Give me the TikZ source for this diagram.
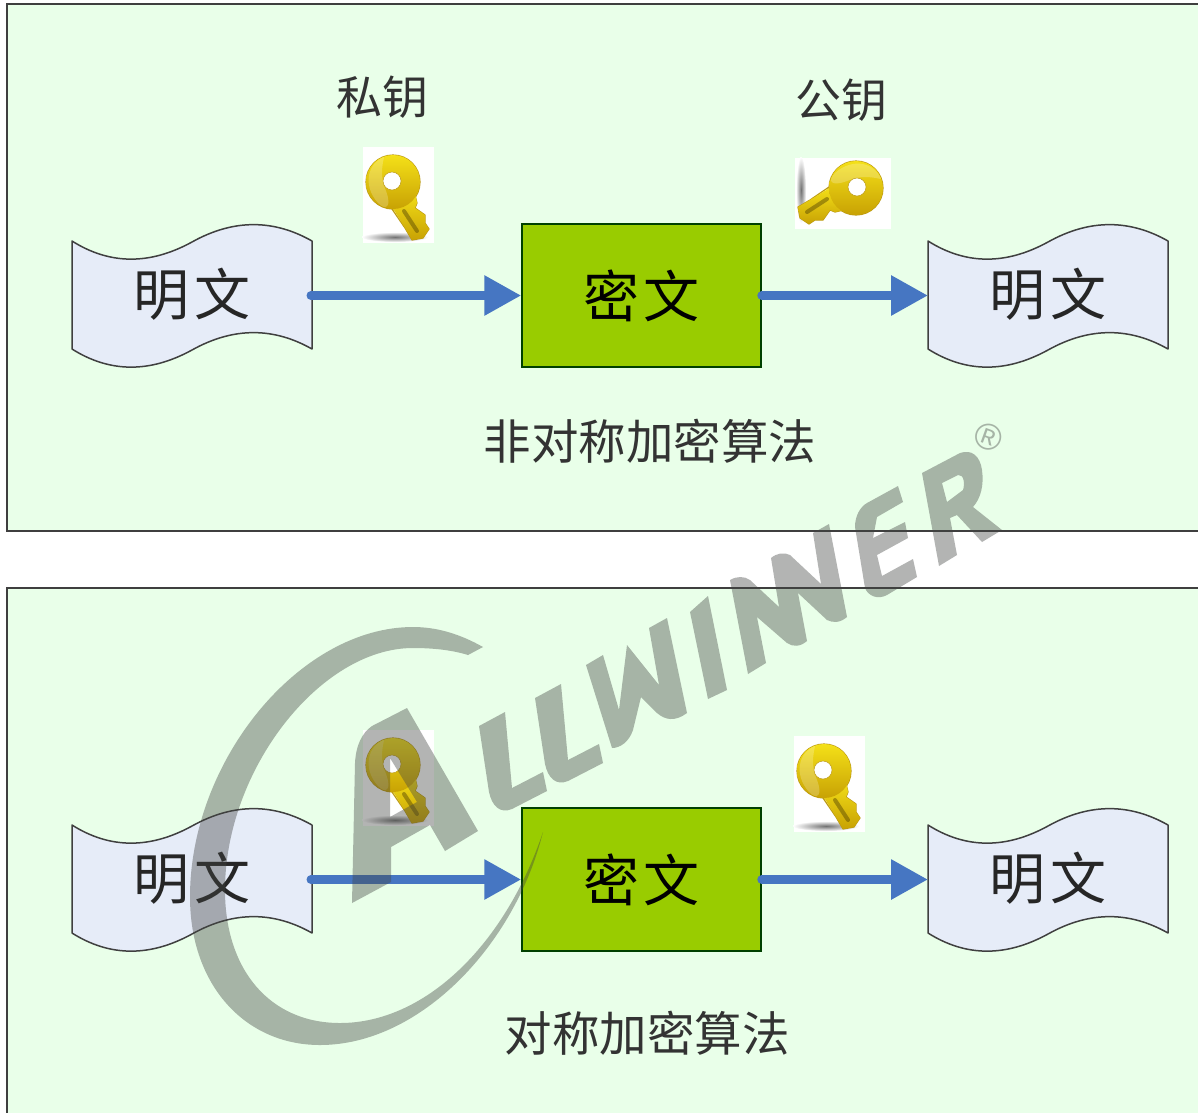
\documentclass[tikz,border=0pt]{standalone}
\usepackage{fontspec}
\usetikzlibrary{arrows.meta}
\newfontfamily\cjk{Noto Sans CJK SC}
\newfontfamily\regfont{Liberation Sans}
\definecolor{panelbg}{HTML}{E9FFE9}
\definecolor{panelline}{HTML}{3F3F3F}
\definecolor{docbg}{HTML}{E6ECF8}
\definecolor{boxbg}{HTML}{99CC00}
\definecolor{flow}{HTML}{4676C2}
\definecolor{keytop}{HTML}{F4E018}
\definecolor{keybot}{HTML}{C8A204}
\definecolor{keyline}{HTML}{BC9A14}
\definecolor{wmark}{HTML}{424442}
\tikzset{
  x=1pt,y=-1pt,
  panel/.style={fill=panelbg,draw=panelline,line width=1.8pt},
  doctext/.style={font=\cjk\fontsize{56}{56}\selectfont,text=black!85,inner sep=0pt},
  caption/.style={font=\cjk\fontsize{46}{46}\selectfont,text=black!80,inner sep=0pt},
  longcaption/.style={font=\cjk\fontsize{47.5}{47.5}\selectfont,text=black!80,inner sep=0pt},
  cipher/.style={fill=boxbg,draw=black!75!green,line width=1.5pt,minimum width=239pt,minimum height=143pt,inner sep=0pt,font=\cjk\fontsize{56}{56}\selectfont,text=black},
  flowline/.style={draw=flow,line width=9pt,line cap=round,-{Triangle[length=37pt,width=38pt]}},
  wm/.style={fill=wmark,fill opacity=.4,text opacity=.4,even odd rule},
  docshape/.pic={
    \draw[fill=docbg,draw=black!75,line width=1.5pt,line join=round]
      (0,0) .. controls (38,24) and (78,24) .. (120,1)
            .. controls (163,-23) and (203,-21) .. (240,0)
      -- (240,108) .. controls (203,87) and (163,85) .. (120,109)
            .. controls (78,132) and (38,132) .. (0,108) -- cycle;
  },
  goldkey/.pic={
    \fill[white] (-29,-34) rectangle (42,62);
    \shade[inner color=black!55,outer color=white] (3,56) ellipse [x radius=33,y radius=5];
    \draw[keyline,line width=1.2pt,line join=round]
      (1,1) circle [radius=27];
    \draw[keyline,line width=1.2pt,line join=round]
      (0,28) -- (13,47) -- (20,59) -- (31,57) -- (37,48) -- (33,42) -- (33,34) -- (23,27) -- (25,22) -- (23,14) -- cycle;
    \shade[top color=keytop,bottom color=keybot]
      (0,26) -- (13,47) -- (20,59) -- (31,57) -- (37,48) -- (33,42) -- (33,34) -- (23,27) -- (25,22) -- (23,10) -- cycle;
    \shade[top color=keytop,bottom color=keybot] (1,1) circle [radius=27];
    \fill[white,opacity=.22] (-8,-24) .. controls (-24,-18) and (-30,4) .. (-14,22) .. controls (-6,30) and (0,26) .. (-6,10) .. controls (-12,-4) and (-10,-14) .. (-8,-24) -- cycle;
    \draw[black!60!keybot,line width=4pt,opacity=.45,line cap=round] (12,30) -- (25,50);
    \fill[white] (0,0) circle [radius=9];
    \draw[keyline,line width=.5pt] (0,0) circle [radius=9];
  }
}
\begin{document}
\begin{tikzpicture}
\clip (0,0) rectangle (1198,1112);
\fill[white] (0,0) rectangle (1198,1112);

% panels
\draw[panel] (7,4) rectangle (1230,531);
\draw[panel] (7,588) rectangle (1230,1140);

% upper row
\pic at (72,241) {docshape};
\pic at (928,241) {docshape};
\node[doctext] (p1) at (192,294) {明\hspace{5pt}文};
\node[doctext] (p2) at (1048,294) {明\hspace{5pt}文};
\node[cipher] (c1) at (641.5,295.5) {密\hspace{5pt}文};
\coordinate (p1e) at (311,295.5);
\coordinate (p2w) at (928,295.5);
\draw[flowline] (p1e) -- (c1.west);
\draw[flowline] (c1.east) -- (p2w);

\node[caption] (t1) at (382,97) {私钥};
\node[caption] (t2) at (841,100) {公钥};
\node[longcaption] (t3) at (650,441) {非对称加密算法};
\pic at (392,181) {goldkey};
\pic[rotate=-90] at (857,187) {goldkey};

% lower row
\pic at (72,825) {docshape};
\pic at (928,825) {docshape};
\node[doctext] (p3) at (192,878) {明\hspace{5pt}文};
\node[doctext] (p4) at (1048,878) {明\hspace{5pt}文};
\node[cipher] (c2) at (641.5,879.5) {密\hspace{5pt}文};
\coordinate (p3e) at (311,879.5);
\coordinate (p4w) at (928,879.5);
\draw[flowline] (p3e) -- (c2.west);
\draw[flowline] (c2.east) -- (p4w);
\node[longcaption] (t4) at (647,1033) {对称加密算法};
\pic at (392,764) {goldkey};
\pic at (823,770) {goldkey};

% watermark
\fill[wm]
  (483,647) .. controls (460,634) and (437,627) .. (413,627)
  .. controls (300,627) and (190,760) .. (190,897)
  .. controls (190,985) and (245,1045) .. (320,1045)
  .. controls (420,1045) and (515,945) .. (543,832)
  .. controls (505,945) and (425,1023) .. (340,1023)
  .. controls (270,1023) and (225,970) .. (225,890)
  .. controls (225,770) and (320,648) .. (413,648)
  .. controls (433,648) and (452,650) .. (468,655) -- cycle;
\fill[wm]
  (352,903) -- (355,763) .. controls (356,745) and (362,733) .. (372,726) -- (407,708) -- (478,831) -- (445,851) -- (430,825) -- (391,847) -- (391,882) -- cycle
  (390,758) -- (417,802) -- (390,817) -- cycle;
\fill[wm]
  (479,726) -- (505,712) -- (512,788) -- (543,772) -- (547,791) -- (512,809) .. controls (500,814) and (492,806) .. (489,792) -- cycle;
\fill[wm]
  (535,698) -- (561,684) -- (568,760) -- (599,744) -- (603,763) -- (568,781) .. controls (556,786) and (548,778) .. (545,764) -- cycle;
\fill[wm]
  (586,665) -- (603,655) -- (619,710) -- (627,645) -- (659,685) -- (649,628) -- (667,618) -- (687,713) .. controls (675,722) and (665,720) .. (657,713) -- (641,697) -- (633,730) .. controls (629,742) and (620,748) .. (612,748) -- cycle;
\fill[wm] (690,612) -- (708,596) -- (727,690) -- (708,699) -- cycle;
\fill[wm]
  (730,580) .. controls (737,576) and (744,576) .. (750,580) -- (779,607) -- (771,558) .. controls (777,553) and (784,552) .. (790,555) -- (821,584) -- (813,533) -- (829,524) -- (847,617) .. controls (840,623) and (833,623) .. (827,620) -- (798,593) -- (807,641) .. controls (800,647) and (793,647) .. (787,643) -- (757,617) -- (766,663) -- (748,674) -- cycle;
\fill[wm]
  (855,527) .. controls (855,516) and (860,507) .. (867,503) -- (898,486) -- (903,502) -- (877,517) -- (873,538) -- (905,522) -- (908,538) -- (877,555) -- (882,576) -- (913,559) -- (917,577) -- (887,595) .. controls (878,600) and (868,596) .. (865,588) -- cycle;
\fill[wm]
  (922,473) -- (960,453) .. controls (972,449) and (980,456) .. (982,470) .. controls (984,485) and (981,498) .. (973,507) -- (1002,530) -- (982,542) -- (957,515) -- (950,518) -- (957,555) -- (939,566) -- cycle
  (942,483) -- (958,475) .. controls (964,474) and (965,484) .. (963,490) -- (947,502) -- cycle;
\node[wm,fill=none,text=wmark,inner sep=0pt,rotate=-20,font=\regfont\fontsize{37}{37}\selectfont] (reg) at (989,437) {®};
\end{tikzpicture}
\end{document}
